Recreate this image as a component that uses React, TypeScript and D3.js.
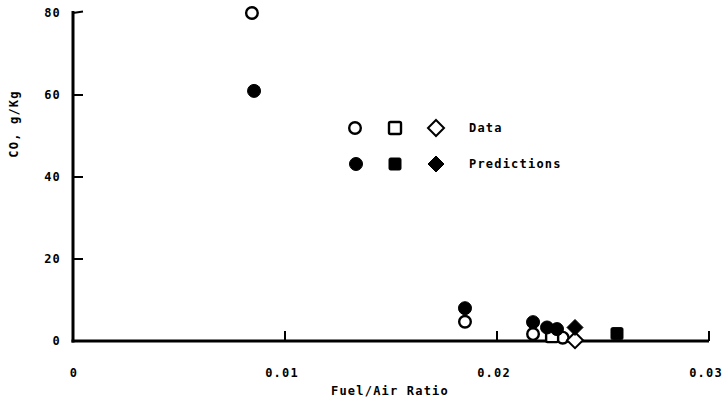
import React from "react";
import * as d3 from "d3";

const W = 722;
const H = 399;

// Data (open markers)
const dataCircles: [number, number][] = [
  [0.00844, 80],
  [0.01849, 4.7],
  [0.0217, 1.7],
  [0.0231, 0.8],
];
const dataSquares: [number, number][] = [[0.0226, 1.2]];
const dataDiamonds: [number, number][] = [[0.02368, 0.2]];

// Predictions (filled markers)
const predCircles: [number, number][] = [
  [0.00854, 61],
  [0.01849, 8],
  [0.0217, 4.6],
  [0.02236, 3.3],
  [0.02283, 2.9],
];
const predSquares: [number, number][] = [[0.02566, 1.8]];
const predDiamonds: [number, number][] = [[0.02368, 3.3]];

const xTicks = [0, 0.01, 0.02, 0.03];
const xTickLabels = ["0", "0.01", "0.02", "0.03"];
const yTicks = [0, 20, 40, 60, 80];

const FONT = "'DejaVu Sans Mono', 'Liberation Mono', monospace";

export default function App() {
  const x = d3.scaleLinear().domain([0, 0.03]).range([73, 709]);
  const y = d3.scaleLinear().domain([0, 80]).range([341, 13]);
  const base = y(0);

  const circle = (cx: number, cy: number, filled: boolean, key: string) => (
    <circle
      key={key}
      cx={cx}
      cy={cy}
      r={filled ? 6.5 : 5.8}
      fill={filled ? "#000" : "#fff"}
      stroke="#000"
      strokeWidth={filled ? 1 : 2.4}
    />
  );
  const square = (cx: number, cy: number, filled: boolean, key: string) => (
    <rect
      key={key}
      x={cx - 6}
      y={cy - 6}
      width={12}
      height={12}
      rx={1.5}
      fill={filled ? "#000" : "#fff"}
      stroke="#000"
      strokeWidth={filled ? 1 : 2.4}
    />
  );
  const diamond = (cx: number, cy: number, filled: boolean, key: string) => (
    <path
      key={key}
      d={`M${cx},${cy - 8}L${cx + 8},${cy}L${cx},${cy + 8}L${cx - 8},${cy}Z`}
      fill={filled ? "#000" : "#fff"}
      stroke="#000"
      strokeWidth={filled ? 1 : 2}
      strokeLinejoin="miter"
    />
  );

  const txt = { fontSize: 12, letterSpacing: 1.2 } as const;

  return (
    <svg
      width={W}
      height={H}
      style={{ position: "absolute", left: 0, top: 0, background: "#fff" }}
      fontFamily={FONT}
      fontWeight="bold"
    >
      <rect width={W} height={H} fill="#fff" />
      {/* axes */}
      <line x1={x(0)} y1={y(80) - 2} x2={x(0)} y2={base + 1.5} stroke="#000" strokeWidth={3} />
      <line x1={x(0) - 1.5} y1={base} x2={x(0.03)} y2={base} stroke="#000" strokeWidth={3} />
      {yTicks.slice(1).map((t) => (
        <line key={"yt" + t} x1={x(0)} y1={y(t)} x2={x(0) + 10} y2={y(t) - (t === 80 ? 1.5 : 0)} stroke="#000" strokeWidth={2} />
      ))}
      {xTicks.slice(1).map((t) => (
        <line key={"xt" + t} x1={x(t)} y1={base} x2={x(t)} y2={base - 10} stroke="#000" strokeWidth={2} />
      ))}
      {yTicks.map((t) => (
        <text key={"yl" + t} x={61} y={y(t) + 4} textAnchor="end" {...txt}>
          {String(t)}
        </text>
      ))}
      {xTicks.map((t, i) => (
        <text key={"xl" + t} x={i === 0 ? x(t) + 1 : x(t) - 3} y={377} textAnchor="middle" {...txt}>
          {xTickLabels[i]}
        </text>
      ))}
      <text x={390} y={395} textAnchor="middle" {...txt}>
        Fuel/Air Ratio
      </text>
      <text transform={`translate(18,124) rotate(-90)`} textAnchor="middle" {...txt}>
        CO, g/Kg
      </text>

      {/* legend */}
      {circle(355, 128, false, "lc1")}
      {square(395, 128, false, "ls1")}
      {diamond(436, 128, false, "ld1")}
      <text x={469} y={132} {...txt}>Data</text>
      {circle(356, 164, true, "lc2")}
      {square(395, 164, true, "ls2")}
      {diamond(436, 164, true, "ld2")}
      <text x={469} y={168} {...txt}>Predictions</text>

      {/* marks */}
      {dataCircles.map((d, i) => circle(x(d[0]), y(d[1]), false, "dc" + i))}
      {dataSquares.map((d, i) => square(x(d[0]), y(d[1]), false, "ds" + i))}
      {dataDiamonds.map((d, i) => diamond(x(d[0]), y(d[1]), false, "dd" + i))}
      {predCircles.map((d, i) => circle(x(d[0]), y(d[1]), true, "pc" + i))}
      {predSquares.map((d, i) => square(x(d[0]), y(d[1]), true, "ps" + i))}
      {predDiamonds.map((d, i) => diamond(x(d[0]), y(d[1]), true, "pd" + i))}
    </svg>
  );
}
